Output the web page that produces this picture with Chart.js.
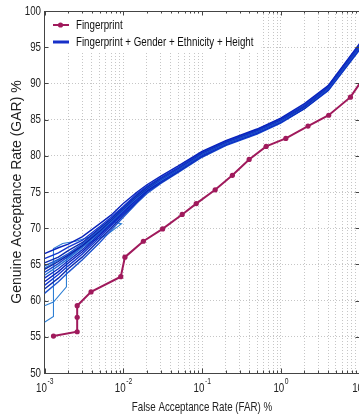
<!DOCTYPE html>
<html>
<head>
<meta charset="utf-8">
<script src="https://cdn.jsdelivr.net/npm/chart.js@4.4.1/dist/chart.umd.min.js"></script>
<style>
  html, body { margin: 0; padding: 0; background: #fff; overflow: hidden; width: 359px; height: 415px; }
  canvas { display: block; }
</style>
</head>
<body>
<canvas id="roc" width="365" height="415"></canvas>
<script>
// axis ticks
const xDecades = [0.001, 0.01, 0.1, 1, 10];
const xExponents = ['-3', '-2', '-1', '0', '1'];
const yTicks = [50, 55, 60, 65, 70, 75, 80, 85, 90, 95, 100];

// Fingerprint only (FAR %, GAR %)
const fpFar = [0.0013, 0.0026, 0.0026, 0.0026, 0.0039, 0.0093, 0.0105, 0.018, 0.0316, 0.056, 0.0845,
               0.147, 0.243, 0.397, 0.653, 1.16, 2.22, 4.06, 7.67, 12];
const fpGar = [55.1, 55.7, 57.7, 59.3, 61.2, 63.3, 66.0, 68.2, 69.9, 71.9, 73.4,
               75.3, 77.3, 79.5, 81.3, 82.4, 84.1, 85.6, 88.1, 91.2];

// Fingerprint + Gender + Ethnicity + Height, repeated runs on a shared FAR grid
const blueFar = [0.001, 0.0015, 0.002, 0.003, 0.005, 0.007, 0.01, 0.015, 0.02, 0.03, 0.05, 0.1, 0.2, 0.5, 1, 2, 4, 10];
const blueRuns = [
  [66.5, 67.3, 67.8, 68.8, 70.6, 71.8, 73.4, 75.0, 76.0, 77.2, 78.6, 80.6, 82.1, 83.7, 85.2, 87.2, 89.7, 95.5],
  [65.8, 66.6, 67.4, 68.3, 70.2, 71.5, 73.0, 74.8, 75.8, 77.0, 78.4, 80.5, 82.0, 83.6, 85.1, 87.0, 89.6, 95.3],
  [65.2, 66.0, 66.9, 68.0, 70.0, 71.3, 72.9, 74.6, 75.7, 76.9, 78.3, 80.4, 81.9, 83.5, 85.0, 86.9, 89.5, 95.2],
  [64.8, 65.7, 66.5, 67.8, 69.8, 71.2, 72.8, 74.5, 75.6, 76.8, 78.2, 80.3, 81.8, 83.4, 84.9, 86.9, 89.4, 95.1],
  [64.3, 65.4, 66.3, 67.6, 69.6, 71.1, 72.7, 74.4, 75.5, 76.8, 78.2, 80.3, 81.8, 83.4, 84.9, 86.8, 89.4, 95.1],
  [63.9, 65.1, 66.1, 67.5, 69.5, 71.0, 72.6, 74.3, 75.4, 76.7, 78.1, 80.2, 81.7, 83.3, 84.8, 86.8, 89.3, 95.0],
  [63.5, 64.8, 65.8, 67.3, 69.4, 70.9, 72.5, 74.2, 75.4, 76.6, 78.1, 80.2, 81.7, 83.3, 84.8, 86.7, 89.3, 95.0],
  [63.1, 64.4, 65.5, 67.0, 69.2, 70.7, 72.4, 74.1, 75.3, 76.6, 78.0, 80.1, 81.6, 83.2, 84.7, 86.7, 89.2, 94.9],
  [62.6, 64.0, 65.2, 66.7, 69.0, 70.5, 72.2, 74.0, 75.2, 76.5, 78.0, 80.1, 81.6, 83.2, 84.7, 86.6, 89.2, 94.9],
  [62.1, 63.6, 64.8, 66.4, 68.7, 70.3, 72.0, 73.8, 75.1, 76.4, 77.9, 80.0, 81.5, 83.1, 84.6, 86.6, 89.1, 94.8],
  [61.6, 63.1, 64.4, 66.0, 68.4, 70.0, 71.8, 73.7, 75.0, 76.3, 77.8, 79.9, 81.5, 83.1, 84.6, 86.5, 89.1, 94.7],
  [61.0, 62.6, 63.9, 65.6, 68.0, 69.7, 71.5, 73.5, 74.8, 76.2, 77.7, 79.8, 81.4, 83.0, 84.5, 86.5, 89.0, 94.6]
];

// the few odd runs that step away from the bundle
const oddFar1 = [0.001, 0.0013, 0.0013, 0.0017, 0.0025, 0.004, 0.007, 0.01, 0.02, 0.05, 0.1, 0.2, 0.5, 1, 2, 4, 10];
const oddGar1 = [57.0, 57.8, 67.2, 67.9, 68.2, 68.9, 70.6, 72.4, 75.3, 78.0, 80.1, 81.7, 83.3, 84.8, 86.7, 89.3, 95.0];
const oddFar2 = [0.001, 0.0013, 0.0019, 0.0019, 0.003, 0.005, 0.01, 0.02, 0.05, 0.1, 0.2, 0.5, 1, 2, 4, 10];
const oddGar2 = [59.3, 59.8, 61.9, 65.8, 67.5, 69.3, 72.5, 75.3, 78.0, 80.1, 81.6, 83.2, 84.7, 86.7, 89.2, 94.9];
const oddFar3 = [0.001, 0.002, 0.004, 0.006, 0.0095, 0.0075, 0.012, 0.02, 0.05, 0.1, 0.2, 0.5, 1, 2, 4, 10];
const oddGar3 = [64.5, 66.3, 68.2, 69.0, 70.6, 70.9, 72.6, 75.2, 78.0, 80.1, 81.6, 83.2, 84.7, 86.6, 89.2, 94.9];

const FP_COLOR = '#a01a5c';
const BLUES = ['#0a24bc', '#1438d0', '#0d2cb0', '#1f55d0', '#0b22a8', '#1a46cc', '#2a6fd6', '#0f30c4'];
const ODD_BLUE = '#2e7fd4';
const SANS = '"Liberation Sans", Arial, sans-serif';
const SQUEEZE = 0.75;   // the figure text is horizontally condensed

const xGrid = [];
for (let i = 0; i < xDecades.length - 1; i++) {
    for (let k = 1; k < 10; k++) xGrid.push(xDecades[i] * k);
}
xGrid.push(xDecades[xDecades.length - 1]);

const pts = (xs, ys) => xs.map((v, i) => ({ x: v, y: ys[i] }));

const datasets = [{
    label: 'Fingerprint',
    data: pts(fpFar, fpGar),
    borderColor: FP_COLOR,
    backgroundColor: FP_COLOR,
    borderWidth: 2,
    pointRadius: 2.6,
    pointBorderWidth: 0,
    tension: 0
}];

blueRuns.forEach((run, i) => {
    datasets.push({
        label: 'Fingerprint + Gender + Ethnicity + Height',
        data: pts(blueFar, run),
        borderColor: BLUES[i % BLUES.length],
        borderWidth: 1.4,
        pointRadius: 0,
        tension: 0
    });
});

[[oddFar1, oddGar1], [oddFar2, oddGar2], [oddFar3, oddGar3]].forEach(([xs, ys]) => {
    datasets.push({
        label: 'Fingerprint + Gender + Ethnicity + Height',
        data: pts(xs, ys),
        borderColor: ODD_BLUE,
        borderWidth: 1.1,
        pointRadius: 0,
        tension: 0
    });
});

function line(ctx, x1, y1, x2, y2) {
    ctx.beginPath();
    ctx.moveTo(x1, y1);
    ctx.lineTo(x2, y2);
    ctx.stroke();
}

// condensed text: draw at (x, y) with a horizontal squeeze
function narrowText(ctx, text, x, y, size, align) {
    ctx.save();
    ctx.font = size + 'px ' + SANS;
    ctx.textAlign = align;
    ctx.translate(x, y);
    ctx.scale(SQUEEZE, 1);
    ctx.fillText(text, 0, 0);
    ctx.restore();
}

function narrowWidth(ctx, text, size) {
    ctx.font = size + 'px ' + SANS;
    return ctx.measureText(text).width * SQUEEZE;
}

// legend box, frame, inward ticks and tick labels (MATLAB look)
const matlabFrame = {
    id: 'matlabFrame',
    afterDraw(chart) {
        const { ctx, chartArea: a, scales: { x, y } } = chart;
        ctx.save();

        // legend
        ctx.fillStyle = '#fff';
        ctx.fillRect(a.left + 1, a.top + 1, 216, 40);
        ctx.strokeStyle = FP_COLOR;
        ctx.lineWidth = 2;
        line(ctx, a.left + 8.5, a.top + 14, a.left + 24.5, a.top + 14);
        ctx.fillStyle = FP_COLOR;
        ctx.beginPath();
        ctx.arc(a.left + 16, a.top + 14, 2.6, 0, Math.PI * 2);
        ctx.fill();
        ctx.strokeStyle = '#1730c8';
        ctx.lineWidth = 3;
        line(ctx, a.left + 8.5, a.top + 31, a.left + 24.5, a.top + 31);
        ctx.fillStyle = '#111';
        ctx.textBaseline = 'middle';
        narrowText(ctx, 'Fingerprint', a.left + 31.5, a.top + 14, 13, 'left');
        narrowText(ctx, 'Fingerprint + Gender + Ethnicity + Height', a.left + 31.5, a.top + 31, 13, 'left');

        // top and right border
        ctx.strokeStyle = '#444';
        ctx.lineWidth = 1;
        line(ctx, a.left, Math.round(a.top) + 0.5, a.right, Math.round(a.top) + 0.5);
        line(ctx, Math.round(a.right) + 0.5, a.top, Math.round(a.right) + 0.5, a.bottom);

        // inward ticks
        xGrid.forEach(v => {
            const px = Math.round(x.getPixelForValue(v)) + 0.5;
            const len = xDecades.includes(v) ? 4.5 : 2.5;
            line(ctx, px, a.bottom, px, a.bottom - len);
            line(ctx, px, a.top, px, a.top + len);
        });
        yTicks.forEach(v => {
            const py = Math.round(y.getPixelForValue(v)) + 0.5;
            line(ctx, a.left, py, a.left + 4, py);
            line(ctx, a.right, py, a.right - 4, py);
        });

        ctx.fillStyle = '#222';

        // y tick labels
        ctx.textBaseline = 'middle';
        yTicks.forEach(v => {
            narrowText(ctx, String(v), a.left - 3.5, y.getPixelForValue(v), 13, 'right');
        });

        // x tick labels with exponents
        ctx.textBaseline = 'alphabetic';
        xDecades.forEach((v, i) => {
            const px = x.getPixelForValue(v);
            const w1 = narrowWidth(ctx, '10', 13);
            const w2 = narrowWidth(ctx, xExponents[i], 9);
            const sx = px - (w1 + w2) / 2;
            narrowText(ctx, '10', sx, 392, 13, 'left');
            narrowText(ctx, xExponents[i], sx + w1 + 0.5, 384, 9, 'left');
        });

        // x axis title
        narrowText(ctx, 'False Acceptance Rate (FAR) %', (a.left + a.right) / 2, 411, 13, 'center');

        ctx.restore();
    }
};

const gridStyle = { color: '#c6c6c6', lineWidth: 1, drawTicks: false };
const borderStyle = { color: '#444', width: 1, dash: [1, 2] };

new Chart(document.getElementById('roc'), {
    type: 'line',
    data: { datasets: datasets },
    options: {
        responsive: false,
        animation: false,
        events: [],
        layout: { padding: { top: 11, right: 5.5, left: 0, bottom: 0 } },
        plugins: {
            legend: { display: false },
            tooltip: { enabled: false }
        },
        scales: {
            x: {
                type: 'logarithmic',
                min: 0.001,
                max: 10,
                afterBuildTicks: s => { s.ticks = xGrid.map(v => ({ value: v })); },
                afterFit: s => { s.height = 42; },
                ticks: { display: false },
                grid: gridStyle,
                border: borderStyle
            },
            y: {
                type: 'linear',
                min: 50,
                max: 100,
                afterBuildTicks: s => { s.ticks = yTicks.map(v => ({ value: v })); },
                afterFit: s => { s.width = 44.5; },
                ticks: { display: false },
                grid: gridStyle,
                border: borderStyle,
                title: {
                    display: true,
                    text: 'Genuine Acceptance Rate (GAR) %',
                    color: '#222',
                    font: { family: SANS, size: 14 },
                    padding: { top: 9, bottom: 0 }
                }
            }
        }
    },
    plugins: [matlabFrame]
});
</script>
</body>
</html>
